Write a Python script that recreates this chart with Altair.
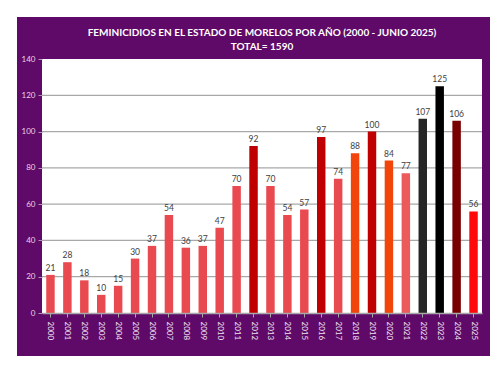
import altair as alt
import pandas as pd

years = [str(y) for y in range(2000, 2026)]
values = [21, 28, 18, 10, 15, 30, 37, 54, 36, 37, 47, 70, 92, 70, 54, 57,
          97, 74, 88, 100, 84, 77, 107, 125, 106, 56]
LIGHT = "#e84a50"
DARK = "#c00000"
ORANGE = "#f2450c"
colors = [LIGHT] * 12 + [DARK, LIGHT, LIGHT, LIGHT, DARK, LIGHT, ORANGE, DARK,
                         ORANGE, "#ec5a5c", "#262626", "#000000", "#780000", "#ff0a0a"]
grid_values = [20, 40, 60, 80, 100, 120]
y_ticks = [0, 20, 40, 60, 80, 100, 120, 140]
title_lines = ["FEMINICIDIOS EN EL ESTADO DE MORELOS POR AÑO (2000 - JUNIO 2025)",
               "TOTAL= 1590"]

PURPLE = "#5f0a69"
FONT = "Lato"
W, H = 440, 254

df = pd.DataFrame({"year": years, "value": values, "color": colors})
one = pd.DataFrame({"a": [0]})

yscale = alt.Scale(domain=[0, 140])


def yaxis():
    return alt.Axis(title=None, values=y_ticks, grid=False, domain=False,
                    tickColor="#b890b8", tickSize=4, labelColor="#e8d4e8",
                    labelFontSize=8, labelFont=FONT, labelPadding=3, zindex=1,
                    labelOverlap=False, labelFlush=False)


frame = alt.Chart(one).mark_rect(color=PURPLE).encode(
    x=alt.value(-25), x2=alt.value(448), y=alt.value(-42), y2=alt.value(297))
plotbg = alt.Chart(one).mark_rect(color="white").encode(
    x=alt.value(0), x2=alt.value(W), y=alt.value(0), y2=alt.value(H))

title = alt.Chart(one).mark_text(
    text=title_lines, color="white", fontSize=10, fontWeight="bold", font=FONT,
    lineHeight=14, align="center", baseline="middle").encode(
    x=alt.value(W / 2), y=alt.value(-26))

grid = alt.Chart(pd.DataFrame({"g": grid_values})).mark_rule(
    color="#a8a8a8", strokeWidth=1.3).encode(
    y=alt.Y("g:Q", scale=yscale, axis=yaxis()))

def xaxis():
    return alt.Axis(title=None, labelAngle=90, labelColor="#f2e4f2",
                    labelFontSize=8, labelFont=FONT, labelPadding=4,
                    domainColor="#a8a8a8", domainWidth=1.3,
                    tickColor="#a8a8a8", tickSize=4, zindex=1)

xscale = alt.Scale(paddingInner=0.5, paddingOuter=0.25)

bars = alt.Chart(df).mark_bar().encode(
    x=alt.X("year:N", sort=years, scale=xscale, axis=xaxis()),
    y=alt.Y("value:Q", scale=yscale, axis=yaxis()),
    color=alt.Color("color:N", scale=None))

labels = alt.Chart(df).mark_text(dy=-7, fontSize=8.5, font=FONT,
                                 color="#404040").encode(
    x=alt.X("year:N", sort=years, scale=xscale, axis=xaxis()),
    y=alt.Y("value:Q", scale=yscale, axis=yaxis()),
    text="value:Q")

chart = alt.layer(frame, plotbg, title, grid, bars, labels).properties(
    width=W, height=H,
    autosize=alt.AutoSizeParams(type="none"),
    padding={"left": 34, "top": 51, "right": 10, "bottom": 45},
    background="white",
).configure_view(strokeWidth=0)

chart.save("out.html", embed_options={"renderer": "svg", "actions": False})
